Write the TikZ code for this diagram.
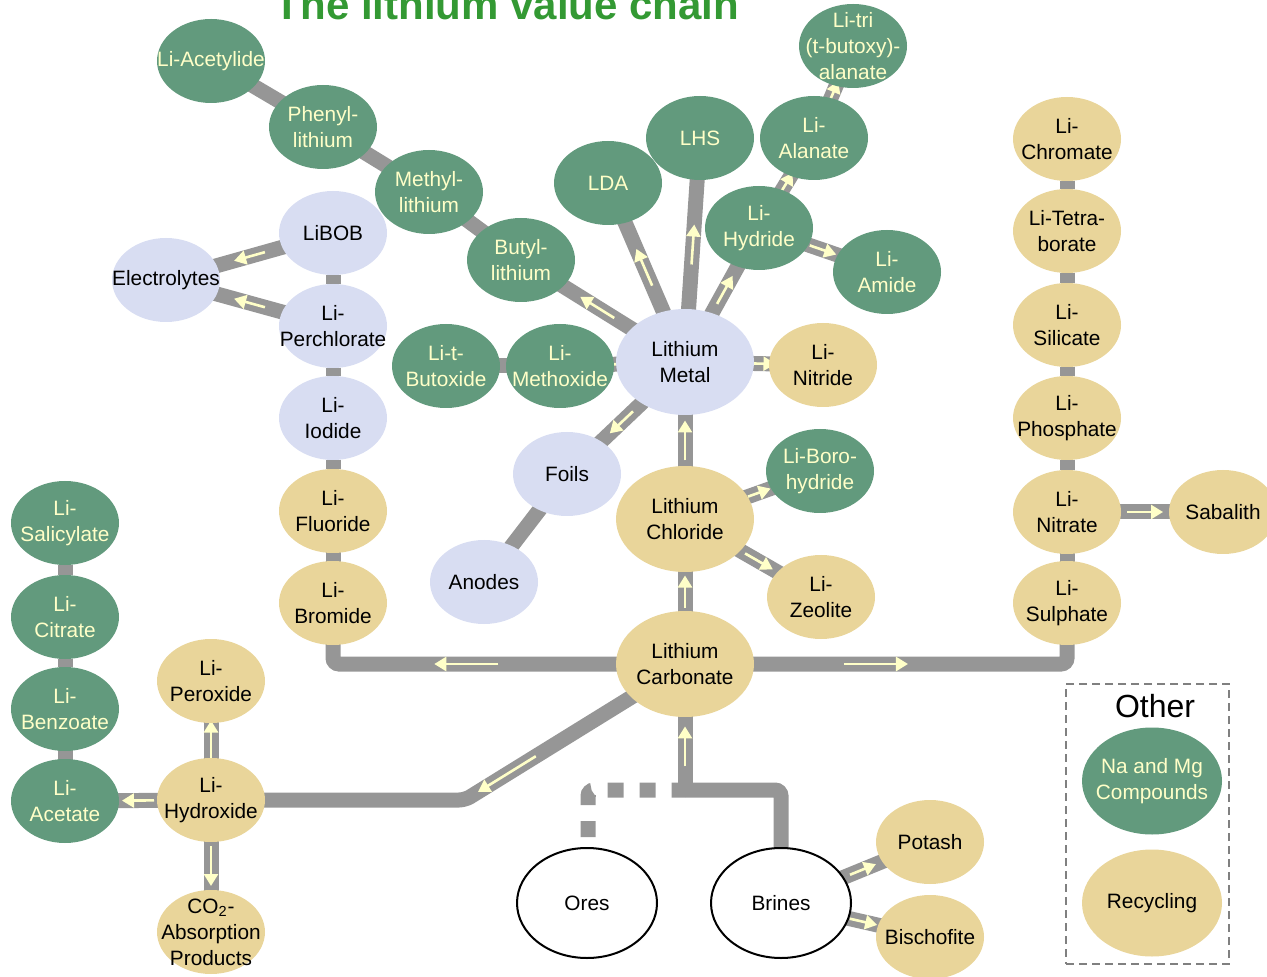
\documentclass[tikz,border=0pt]{standalone}
\usepackage{fontspec}
\setmainfont{Liberation Sans}
\usetikzlibrary{arrows.meta,shapes.geometric,decorations.markings,backgrounds}

\definecolor{leaf}{HTML}{629A7D}
\definecolor{cream}{HTML}{FFFFC8}
\definecolor{lav}{HTML}{D8DDF2}
\definecolor{sand}{HTML}{E9D59A}
\definecolor{barg}{HTML}{969696}
\definecolor{titlegreen}{HTML}{339933}

\begin{document}
\begin{tikzpicture}[x=0.5pt,y=-0.5pt,font=\fontsize{10.4}{13}\selectfont,
ell/.style={ellipse,inner sep=0pt,minimum width=54pt,minimum height=42pt},
big/.style={minimum width=69pt,minimum height=53pt},
txt/.style={align=center,inner sep=0pt},
grn/.style={ell,fill=leaf,label={[txt,text=cream]center:#1}},
snd/.style={ell,fill=sand,label={[txt]center:#1}},
lvd/.style={ell,fill=lav,label={[txt]center:#1}},
src/.style={ell,draw,line width=1pt,fill=white,minimum width=70pt,minimum height=55pt,label={[txt]center:#1}},
bar/.style={draw=barg,line width=7.5pt,shorten <=-6pt,shorten >=-6pt,rounded corners=3pt},
flowtip/.style={draw=cream,line width=1.3pt,shorten <=0pt,shorten >=0pt,-{Triangle[width=7pt,length=6pt]}},
fl/.store in=\flowhalf,fl=9pt,
flow/.style={bar,postaction={decorate,decoration={markings,mark=at position #1 with {\draw[flowtip] (-\flowhalf,0) -- (\flowhalf,0);}}}},
flow/.default=0.5]
\useasboundingbox (0,0) rectangle (1267,977);

\node[font=\fontsize{21}{25}\selectfont\bfseries,text=titlegreen,anchor=base] (title) at (507,20) {The lithium value chain};

% organic lithium and metal products
\node[grn={Li-Acetylide}] (acet) at (211,61) {};
\node[grn={Phenyl-\\lithium}] (phenyl) at (323,127) {};
\node[grn={Methyl-\\lithium}] (methyl) at (429,192) {};
\node[grn={Butyl-\\lithium}] (butyl) at (521,260) {};
\node[grn={LDA}] (lda) at (608,183) {};
\node[grn={LHS}] (lhs) at (700,138) {};
\node[grn={Li-\\Alanate}] (alanate) at (814,138) {};
\node[grn={Li-tri\\(t-butoxy)-\\alanate}] (tri) at (853,46) {};
\node[grn={Li-\\Hydride}] (hydride) at (759,228) {};
\node[grn={Li-\\Amide}] (amide) at (887,272) {};
\node[grn={Li-t-\\Butoxide}] (butox) at (446,366) {};
\node[grn={Li-\\Methoxide}] (methox) at (560,366) {};
\node[lvd={Lithium\\Metal},big] (metal) at (685,362) {};
\node[snd={Li-\\Nitride}] (nitride) at (823,365) {};
\node[lvd={Foils}] (foils) at (567,474) {};
\node[lvd={Anodes}] (anodes) at (484,582) {};

% electrolyte salts
\node[lvd={LiBOB}] (libob) at (333,233) {};
\node[lvd={Electrolytes}] (electro) at (166,280) {};
\node[lvd={Li-\\Perchlorate}] (perchl) at (333,326) {};
\node[lvd={Li-\\Iodide}] (iodide) at (333,418) {};
\node[snd={Li-\\Fluoride}] (fluoride) at (333,511) {};
\node[snd={Li-\\Bromide}] (bromide) at (333,603) {};

% chloride and carbonate
\node[snd={Lithium\\Chloride},big] (chloride) at (685,519) {};
\node[grn={Li-Boro-\\hydride}] (borohyd) at (820,471) {};
\node[snd={Li-\\Zeolite}] (zeolite) at (821,597) {};
\node[snd={Lithium\\Carbonate},big] (carb) at (685,664) {};

% inorganic salts
\node[snd={Li-\\Chromate}] (chromate) at (1067,139) {};
\node[snd={Li-Tetra-\\borate}] (tetrab) at (1067,231) {};
\node[snd={Li-\\Silicate}] (silicate) at (1067,325) {};
\node[snd={Li-\\Phosphate}] (phosph) at (1067,418) {};
\node[snd={Li-\\Nitrate}] (nitrate) at (1067,512) {};
\node[snd={Li-\\Sulphate}] (sulph) at (1067,603) {};
\node[snd={Sabalith}] (sabalith) at (1223,512) {};

% hydroxide branch
\node[grn={Li-\\Salicylate}] (salic) at (65,523) {};
\node[grn={Li-\\Citrate}] (citrate) at (65,617) {};
\node[grn={Li-\\Benzoate}] (benzo) at (65,709) {};
\node[grn={Li-\\Acetate}] (acetate) at (65,801) {};
\node[snd={Li-\\Peroxide}] (peroxide) at (211,681) {};
\node[snd={Li-\\Hydroxide}] (hydrox) at (211,800) {};
\node[snd={CO\textsubscript{2}-\\Absorption\\Products}] (co2) at (211,932) {};

% raw materials
\node[src={Ores}] (ores) at (587,903) {};
\node[src={Brines}] (brines) at (781,903) {};
\node[snd={Potash}] (potash) at (930,842) {};
\node[snd={Bischofite}] (bisch) at (930,937) {};

% legend
\node[draw=gray,dash pattern=on 4pt off 2.5pt,line width=1pt,inner sep=0pt,minimum width=81.5pt,minimum height=140pt] (otherbox) at (1147.5,824) {};
\node[font=\fontsize{16}{19}\selectfont] (other) at (1155,706) {Other};
\node[grn={Na and Mg\\Compounds},minimum width=70pt,minimum height=53.5pt] (namg) at (1152,781) {};
\node[snd={Recycling},minimum width=70pt,minimum height=53.5pt] (recyc) at (1152,903) {};

\begin{scope}[on background layer]
\coordinate (kink) at (465,800);
\coordinate (join) at (685,790);
\coordinate (oretop) at (588,837);
\draw[flow,fl=16pt] (carb) -| (bromide);
\draw[flow=0.37,fl=16pt] (carb) -| (sulph);
\draw[flow=0.37,fl=17pt] (carb) -- (kink) -- (hydrox);
\draw[bar,shorten >=0pt] (brines) |- (join);
\draw[bar,shorten <=0pt,shorten >=0pt,dash pattern=on 8pt off 8pt] (oretop) |- (join);
\draw[flow=0.6,fl=10pt,shorten <=0pt] (join) -- (carb);
\draw[flow,fl=8pt] (carb) -- (chloride);
\draw[flow,fl=10pt] (chloride) -- (metal);
\draw[flow,fl=6pt] (chloride) -- (borohyd);
\draw[flow,fl=8pt] (chloride) -- (zeolite);
\draw[flow,fl=8pt] (metal) -- (foils);
\draw[bar] (foils) -- (anodes);
\draw[flow,fl=8pt] (metal) -- (methox);
\draw[bar] (methox) -- (butox);
\draw[flow,fl=7pt] (metal) -- (nitride);
\draw[flow,fl=10pt] (metal) -- (butyl);
\draw[bar] (butyl) -- (methyl);
\draw[bar] (methyl) -- (phenyl);
\draw[bar] (phenyl) -- (acet);
\draw[flow,fl=10pt] (metal) -- (lda);
\draw[flow,fl=10pt] (metal) -- (lhs);
\draw[flow,fl=8pt] (metal) -- (hydride);
\draw[flow,fl=6pt] (hydride) -- (alanate);
\draw[flow,fl=6pt] (alanate) -- (tri);
\draw[flow,fl=7pt] (hydride) -- (amide);
\draw[flow,fl=8pt] (libob) -- (electro);
\draw[flow,fl=8pt] (perchl) -- (electro);
\draw[bar] (libob) -- (perchl) -- (iodide) -- (fluoride) -- (bromide);
\draw[bar] (chromate) -- (tetrab) -- (silicate) -- (phosph) -- (nitrate) -- (sulph);
\draw[flow,fl=9pt] (nitrate) -- (sabalith);
\draw[bar] (salic) -- (citrate) -- (benzo) -- (acetate);
\draw[flow,fl=8pt] (hydrox) -- (acetate);
\draw[flow,fl=10pt] (hydrox) -- (peroxide);
\draw[flow,fl=10pt] (hydrox) -- (co2);
\draw[flow,fl=7pt] (brines) -- (potash);
\draw[flow,fl=7pt] (brines) -- (bisch);
\end{scope}
\end{tikzpicture}
\end{document}
